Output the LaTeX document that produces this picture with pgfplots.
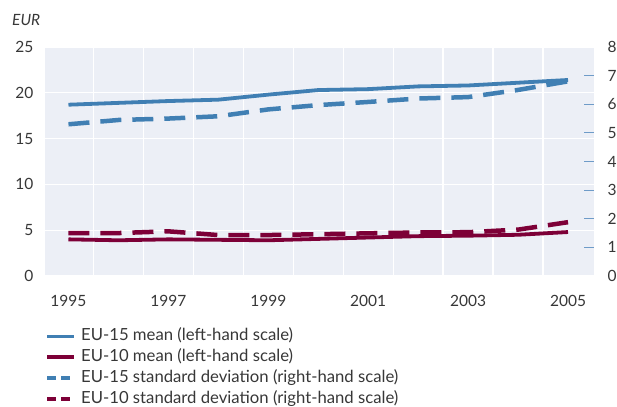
\documentclass[border=0pt]{standalone}
\usepackage{pgfplots}
\pgfplotsset{compat=1.18}
\usepackage{fontspec}
\setmainfont{Lato}
\definecolor{bgc}{RGB}{236,239,246}
\definecolor{eublue}{RGB}{64,127,179}
\definecolor{eured}{RGB}{125,0,55}
\definecolor{tickblue}{RGB}{110,155,200}
\definecolor{txt}{RGB}{55,55,55}
\begin{document}
\begin{tikzpicture}[font=\fontsize{15.5bp}{18bp}\selectfont, every node/.style={text=txt}]
\pgfplotsset{
  common/.style={
    scale only axis, width=549bp, height=229bp,
    xmin=1994.53, xmax=2005.52,
    axis line style={draw=none},
    /pgf/number format/assume math mode=true,
    /pgf/number format/1000 sep={},
    tick label style={font=\fontsize{15.5bp}{18bp}\selectfont, text=txt},
  },
}
\begin{axis}[common,
  axis background/.style={fill=bgc},
  ymin=0, ymax=25, ytick={0,5,...,25},
  xtick={1995,1997,...,2005},
  minor xtick={1995.5,1996.5,...,2004.5},
  xminorgrids, ymajorgrids,
  grid style={white, line width=1.3bp},
  minor grid style={white, line width=1.3bp},
  major tick length=0, minor tick length=0,
  yticklabel style={xshift=-8bp},
  xticklabel style={yshift=-16bp},
  legend style={draw=none, fill=none, at={(0,0)}, anchor=north west,
    xshift=-3bp, yshift=-49bp, row sep=2.4bp, column sep=3bp,
    nodes={inner sep=1.5bp, text height=12bp, text depth=3.5bp,
      font=\fontsize{16.7bp}{19bp}\selectfont, text=txt}},
  legend cell align=left,
  legend image code/.code={\draw[#1] (0bp,0bp) -- (27bp,0bp);},
]
\addplot[eublue, line width=3.8bp] coordinates {
(1995,18.7) (1996,18.9) (1997,19.1) (1998,19.25) (1999,19.8) (2000,20.3)
(2001,20.4) (2002,20.7) (2003,20.8) (2004,21.1) (2005,21.4)};
\addlegendentry{EU-15 mean (left-hand scale)}
\addplot[eured, line width=3.8bp] coordinates {
(1995,4.0) (1996,3.9) (1997,4.0) (1998,3.95) (1999,3.9) (2000,4.05)
(2001,4.2) (2002,4.35) (2003,4.4) (2004,4.5) (2005,4.8)};
\addlegendentry{EU-10 mean (left-hand scale)}
\addlegendimage{eublue, line width=4.5bp, dash pattern=on 9bp off 5bp}
\addlegendentry{EU-15 standard deviation (right-hand scale)}
\addlegendimage{eured, line width=4.5bp, dash pattern=on 9bp off 5bp}
\addlegendentry{EU-10 standard deviation (right-hand scale)}
\end{axis}
\begin{axis}[common,
  ymin=0, ymax=8, ytick={1,...,7},
  extra y ticks={0,8}, extra y tick style={major tick length=0},
  axis y line*=right, axis x line=none,
  ytick style={tickblue, line width=1.1bp},
  major tick length=10bp, tick align=inside,
  yticklabel style={xshift=10bp},
]
\addplot[eublue, line width=4.5bp, dash pattern=on 21bp off 11bp] coordinates {
(1995,5.3) (1996,5.45) (1997,5.5) (1998,5.58) (1999,5.82) (2000,5.97)
(2001,6.08) (2002,6.2) (2003,6.25) (2004,6.5) (2005,6.8)};
\addplot[eured, line width=4.5bp, dash pattern=on 21bp off 11bp] coordinates {
(1995,1.5) (1996,1.5) (1997,1.56) (1998,1.43) (1999,1.43) (2000,1.46)
(2001,1.49) (2002,1.52) (2003,1.53) (2004,1.62) (2005,1.88)};
\end{axis}
\node[anchor=south west, inner sep=0pt, font=\itshape\fontsize{15.5bp}{18bp}\selectfont] at (-33bp,250bp) {EUR};
\pgfresetboundingbox
\path[use as bounding box] (-45bp,-131bp) rectangle (572bp,276bp);
\end{tikzpicture}
\end{document}
